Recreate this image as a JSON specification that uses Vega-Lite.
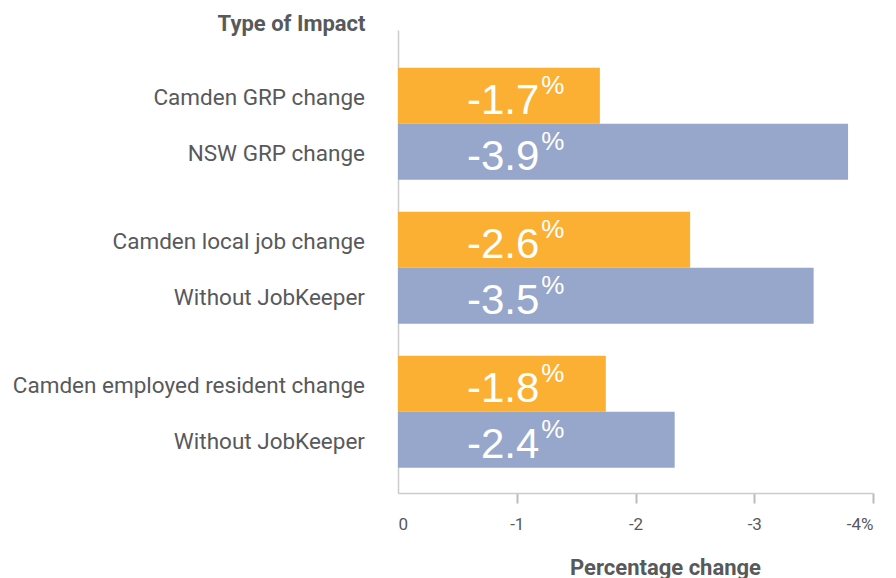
{
  "$schema": "https://vega.github.io/schema/vega-lite/v6.json",
  "width": 475,
  "height": 463,
  "autosize": {"type": "none"},
  "padding": {"left": 398, "top": 30, "right": 23, "bottom": 85},
  "background": "white",
  "config": {"view": {"stroke": null}, "font": "Roboto"},
  "data": {
    "values": [
      {"group": "GRP", "series": "Camden", "label": "Camden GRP change", "value": -1.70, "text": "-1.7"},
      {"group": "GRP", "series": "Comparison", "label": "NSW GRP change", "value": -3.79, "text": "-3.9"},
      {"group": "Jobs", "series": "Camden", "label": "Camden local job change", "value": -2.46, "text": "-2.6"},
      {"group": "Jobs", "series": "Comparison", "label": "Without JobKeeper", "value": -3.50, "text": "-3.5"},
      {"group": "Residents", "series": "Camden", "label": "Camden employed resident change", "value": -1.75, "text": "-1.8"},
      {"group": "Residents", "series": "Comparison", "label": "Without JobKeeper", "value": -2.33, "text": "-2.4"}
    ]
  },
  "encoding": {
    "y": {
      "field": "group", "type": "nominal", "sort": null,
      "scale": {"paddingInner": 0.222, "paddingOuter": 0.219, "align": 0.6},
      "axis": {
        "labels": false, "ticks": false, "domain": true, "domainColor": "#cccccc", "domainWidth": 1.5, "grid": false,
        "title": "Type of Impact", "titleAngle": 0, "titleAlign": "right", "titleBaseline": "alphabetic",
        "titleX": -33, "titleY": 0, "titleFont": "Roboto", "titleFontSize": 22, "titleFontWeight": "bold", "titleColor": "#58595b"
      }
    },
    "yOffset": {"field": "series", "type": "nominal", "sort": ["Camden", "Comparison"], "scale": {"paddingInner": 0, "paddingOuter": 0}}
  },
  "layer": [
    {
      "mark": {"type": "bar"},
      "encoding": {
        "x": {
          "field": "value", "type": "quantitative",
          "scale": {"domain": [0, -4], "nice": false},
          "axis": {
            "values": [0, -1, -2, -3, -4],
            "labelExpr": "datum.value === -4 ? '-4%' : (datum.value === 0 ? '0' : '-' + (-datum.value))",
            "grid": false, "domainColor": "#cccccc", "domainWidth": 1.5,
            "tickColor": {"condition": {"test": "datum.value === 0", "value": "transparent"}, "value": "#bbbbbb"},
            "tickSize": 10, "tickWidth": 2,
            "labelFont": "Roboto", "labelFontSize": 17, "labelColor": "#58595b", "labelPadding": 13,
            "title": "Percentage change", "titleX": 267, "titleY": 81, "titleAlign": "center", "titleBaseline": "alphabetic",
            "titleFont": "Roboto", "titleFontSize": 22, "titleFontWeight": "bold", "titleColor": "#58595b"
          }
        },
        "color": {
          "field": "series", "type": "nominal",
          "scale": {"domain": ["Camden", "Comparison"], "range": ["#FBB034", "#97A6CB"]},
          "legend": null
        }
      }
    },
    {
      "mark": {"type": "text", "align": "right", "baseline": "middle", "dx": -33, "dy": 2, "fontSize": 22.5, "font": "Roboto", "color": "#58595b"},
      "encoding": {"x": {"datum": 0, "type": "quantitative"}, "text": {"field": "label"}}
    },
    {
      "mark": {"type": "text", "align": "right", "baseline": "alphabetic", "dy": 18, "fontSize": 42, "font": "Liberation Sans", "color": "white"},
      "encoding": {"x": {"datum": -1.19, "type": "quantitative"}, "text": {"field": "text"}}
    },
    {
      "mark": {"type": "text", "align": "left", "baseline": "alphabetic", "dx": 2, "dy": -2, "fontSize": 26, "font": "Liberation Sans", "color": "white", "text": "%"},
      "encoding": {"x": {"datum": -1.19, "type": "quantitative"}}
    }
  ]
}
